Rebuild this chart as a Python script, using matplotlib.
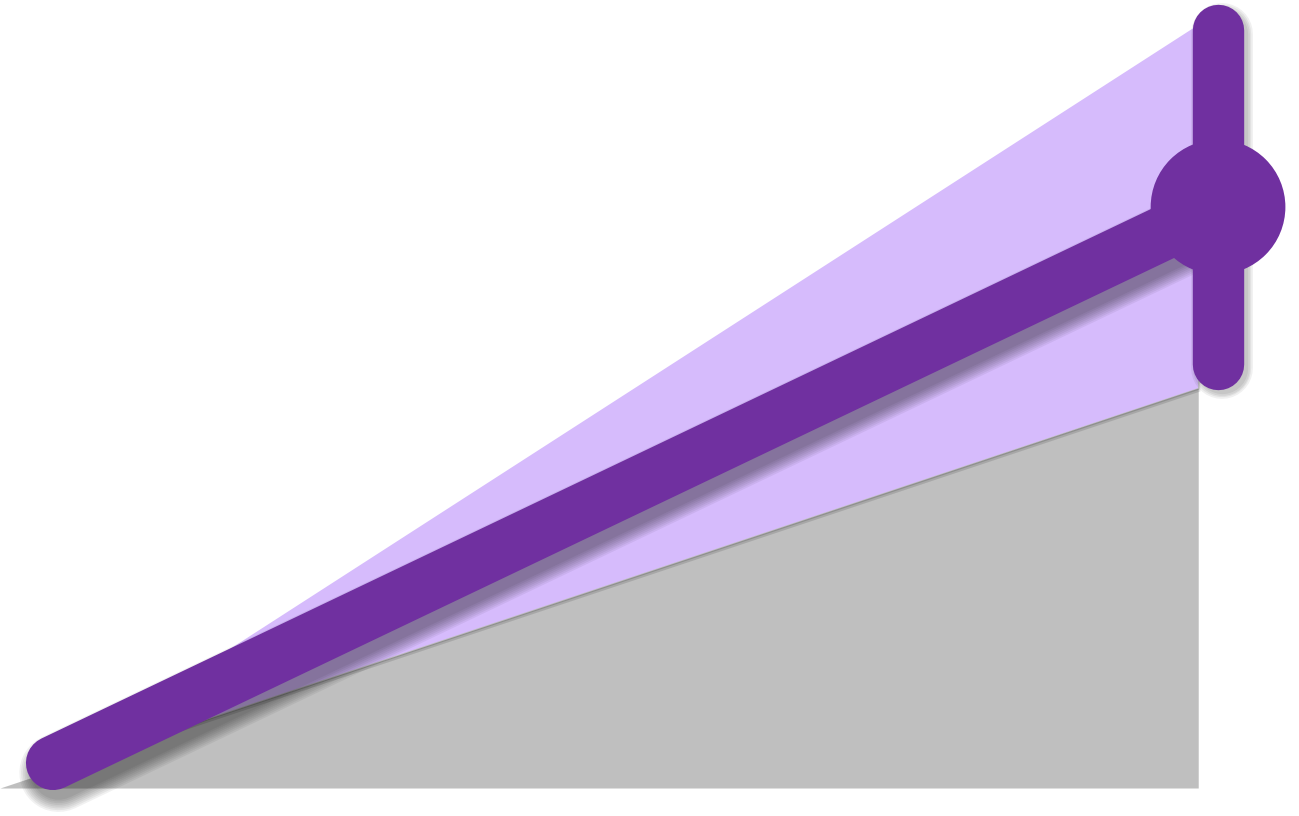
import matplotlib
matplotlib.use("Agg")
import matplotlib.pyplot as plt
import matplotlib.patheffects as pe

# --- data (x: 0 = first point, 1 = last point) ---
line_x = [0.0, 1.0]
line_y = [0.25, 5.81]

band_x = [0.0, 0.983]
band_upper = [0.25, 7.63]
band_lower = [0.18, 4.00]

base_x = [-0.0455, 0.983]
base_y = [0.0, 4.00]

err_x = [1.0]
err_y = [5.81]
err_low = [5.81 - 4.24]
err_high = [7.58 - 5.81]

PURPLE = "#7030a0"
LAVENDER = "#d6bbfc"
GREY = "#bfbfbf"


def soft_shadow(width, offset=(4, -7), steps=8, step_w=2.5, alpha=0.055):
    # stack of widening translucent strokes to fake a blurred drop shadow
    effects = []
    for i in range(steps):
        effects.append(pe.SimpleLineShadow(offset=offset, shadow_color="black",
                                           alpha=alpha, linewidth=width + i * step_w))
    effects.append(pe.Normal())
    return effects


fig = plt.figure(figsize=(12.99, 8.16), dpi=100)
ax = fig.add_axes([0, 0, 1, 1])

ax.fill_between(base_x, 0, base_y, color=GREY, linewidth=0, zorder=1)

band = ax.fill_between(band_x, band_lower, band_upper, color=LAVENDER,
                       linewidth=0, zorder=2)
band.set_path_effects([pe.SimplePatchShadow(offset=(1.5, -2.5), shadow_rgbFace="black",
                                            alpha=0.12),
                       pe.SimplePatchShadow(offset=(0.8, -1.2), shadow_rgbFace="black",
                                            alpha=0.15),
                       pe.Normal()])

ax.plot(line_x, line_y, color=PURPLE, lw=39, solid_capstyle="round", zorder=3,
        path_effects=soft_shadow(39))

eb = ax.errorbar(err_x, err_y, yerr=[err_low, err_high], fmt="none",
                 ecolor=PURPLE, elinewidth=37, capsize=0, zorder=4)
for coll in eb.lines[2]:
    coll.set_capstyle("round")
    coll.set_path_effects(soft_shadow(37, offset=(3, -3), steps=4, alpha=0.06))

ax.plot(err_x, err_y, "o", color=PURPLE, ms=97, mew=0, zorder=5,
        path_effects=[pe.SimpleLineShadow(offset=(3, -3), shadow_color="black",
                                          alpha=0.25), pe.Normal()])

ax.set_xlim(-0.0455, 1.0695)
ax.set_ylim(-0.28, 7.88)
ax.axis("off")

fig.savefig("out.png", dpi=100)
